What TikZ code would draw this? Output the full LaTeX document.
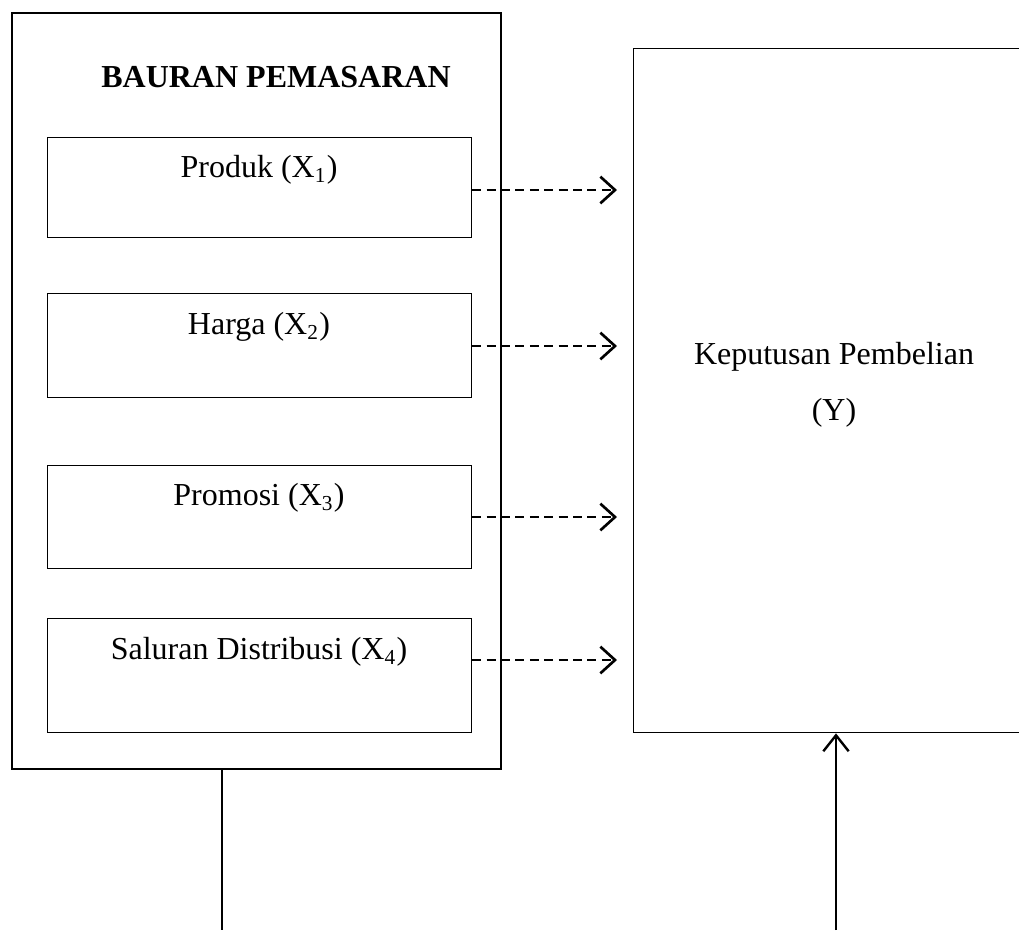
\documentclass[tikz,border=0pt]{standalone}
\usepackage{fontspec}
\setmainfont{Liberation Serif}
\usetikzlibrary{arrows.meta}
\begin{document}
\begin{tikzpicture}[x=0.375pt,y=-0.375pt,
  outerbox/.style={draw,line width=0.75pt,anchor=north west,inner sep=0pt},
  itembox/.style={draw,line width=0.45pt,anchor=north west,inner sep=0pt,minimum width=424*0.375pt},
  lbl/.style={font=\fontsize{12}{14}\selectfont,inner sep=0pt},
  dasharrow/.style={line width=1pt,dash pattern=on 3.4pt off 2pt,-{Straight Barb[length=5.5pt,width=10pt,line width=1pt]}},
  solidarrow/.style={line width=0.9pt,-{Straight Barb[length=6pt,width=9.5pt,line width=0.9pt]}}]
\useasboundingbox (0,0) rectangle (1019,930);
% outer box
\node[outerbox,minimum width=489*0.375pt,minimum height=756*0.375pt] (outer) at (11,12) {};
\node[lbl,font=\fontsize{12}{14}\selectfont\bfseries] (title) at (276,77) {BAURAN PEMASARAN};
% item boxes
\node[itembox,minimum height=100*0.375pt] (b1) at (47,137) {};
\node[itembox,minimum height=104*0.375pt] (b2) at (47,293) {};
\node[itembox,minimum height=103*0.375pt] (b3) at (47,465) {};
\node[itembox,minimum height=114*0.375pt] (b4) at (47,618) {};
\node[lbl] (t1) at (259,170) {Produk (X\textsubscript{1})};
\node[lbl] (t2) at (259,327) {Harga (X\textsubscript{2})};
\node[lbl] (t3) at (259,498) {Promosi (X\textsubscript{3})};
\node[lbl] (t4) at (259,652) {Saluran Distribusi (X\textsubscript{4})};
% right box
\node[outerbox,line width=0.5pt,minimum width=400*0.375pt,minimum height=684*0.375pt] (right) at (633,48) {};
\node[lbl] (y1) at (834,357) {Keputusan Pembelian};
\node[lbl] (y2) at (834,413) {(Y)};
% dashed arrows
\coordinate (tipx) at (617,0);
\coordinate (a1) at (0,190);
\coordinate (a2) at (0,346);
\coordinate (a3) at (0,517);
\coordinate (a4) at (0,660);
\draw[dasharrow] (b1.east |- a1) -- (tipx |- a1);
\draw[dasharrow] (b2.east |- a2) -- (tipx |- a2);
\draw[dasharrow] (b3.east |- a3) -- (tipx |- a3);
\draw[dasharrow] (b4.east |- a4) -- (tipx |- a4);
% bottom lines
\coordinate (lend) at (222,930);
\draw[line width=0.75pt] (outer.south -| lend) -- (lend);
\coordinate (astart) at (836,930);
\draw[solidarrow] (astart) -- (right.south -| astart);
\end{tikzpicture}
\end{document}
